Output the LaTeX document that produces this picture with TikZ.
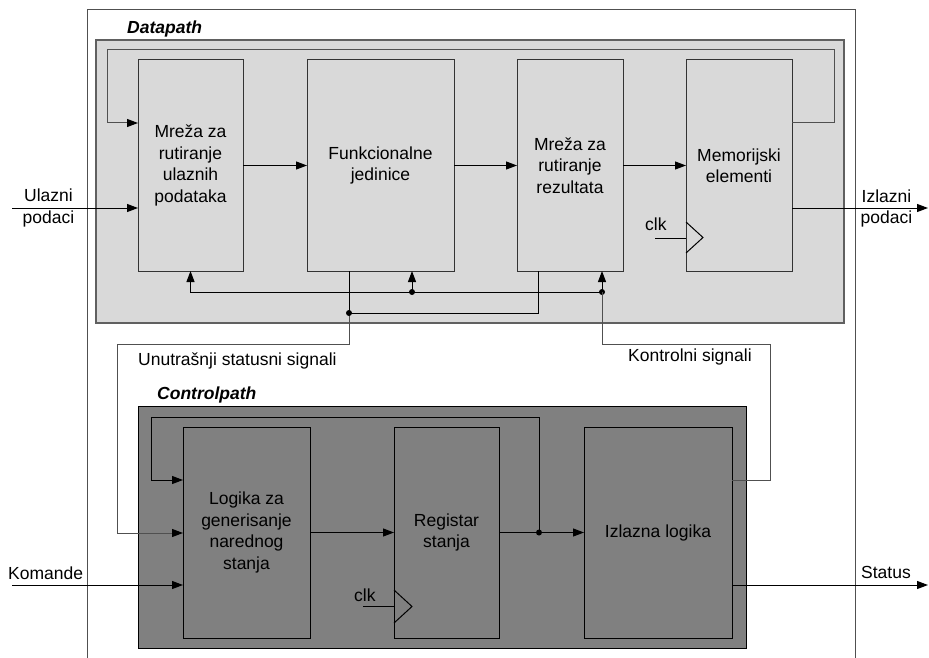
\documentclass[tikz,border=0pt]{standalone}
\usepackage{fontspec}
\setmainfont{Liberation Sans}
\usetikzlibrary{arrows.meta}

\definecolor{dpfill}{HTML}{D9D9D9}
\definecolor{cpfill}{HTML}{808080}
\definecolor{dpedge}{HTML}{606060}
\definecolor{frame}{HTML}{505050}
\definecolor{wiregray}{HTML}{505050}

\tikzset{
  txt/.style={font=\fontsize{17.5}{21.5}\selectfont},
  block/.style={draw=black!80, line width=1pt, rectangle, inner sep=0pt, outer sep=0pt,
    align=center, txt},
  wire/.style={draw=black, line width=1pt},
  grwire/.style={draw=wiregray, line width=1pt},
  arr/.style={-{Triangle[length=11pt,width=8pt,black]}},
  dot/.style={circle, fill=black, inner sep=0pt, minimum size=6pt},
  lbl/.style={txt, inner sep=0pt},
  title/.style={font=\fontsize{17.5}{21.5}\selectfont\bfseries\itshape, inner sep=0pt},
}

\begin{document}
\begin{tikzpicture}[x=1pt, y=-1pt]
\useasboundingbox (0,0) rectangle (929,658);

% enclosing system frame, open at the bottom
\draw[frame, line width=1pt] (87,658) -- (87,10) -- (855,10) -- (855,658);

% datapath region
\draw[fill=dpfill, draw=dpedge, line width=1.5pt] (96,40) rectangle (844,323);
\node[title, anchor=base west] (dptitle) at (127,33.5) {Datapath};

% controlpath region
\draw[fill=cpfill, draw=black, line width=1pt] (138,406) rectangle (746,648);
\node[title, anchor=base west] (cptitle) at (157,399.5) {Controlpath};

% datapath blocks
\node[block, minimum width=105pt, minimum height=211pt] (b1) at (190.5,165.5)
  {Mreža za\\rutiranje\\ulaznih\\podataka};
\node[block, minimum width=147pt, minimum height=211pt] (b2) at (380.5,165.5)
  {Funkcionalne\\jedinice};
\node[block, minimum width=106pt, minimum height=211pt] (b3) at (570,165.5)
  {Mreža za\\rutiranje\\rezultata};
\node[block, minimum width=106pt, minimum height=211pt] (b4) at (739,165.5)
  {Memorijski\\elementi};

% controlpath blocks
\node[block, draw=black, minimum width=127pt, minimum height=211pt] (c1) at (246.5,532.5)
  {Logika za\\generisanje\\narednog\\stanja};
\node[block, draw=black, minimum width=105pt, minimum height=211pt] (c2) at (446.5,532.5)
  {Registar\\stanja};
\node[block, draw=black, minimum width=148pt, minimum height=211pt] (c3) at (658,532.5)
  {Izlazna logika};

% datapath feedback from the memory elements
\draw[grwire, arr] (b4.east |- 0,123) -| (834,50) -| (107,123) -- (b1.west |- 0,123);

% data flow through the datapath
\coordinate (inL) at (12,208);
\coordinate (outR) at (928,208);
\draw[wire, arr] (inL) -- (b1.west |- inL);
\draw[wire, arr] (b1.east) -- (b2.west);
\draw[wire, arr] (b2.east) -- (b3.west);
\draw[wire, arr] (b3.east) -- (b4.west);
\draw[wire, arr] (b4.east |- outR) -- (outR);

% clock input of the memory elements
\draw[wire] (b4.west |- 0,222) -- (703,237.5) -- (b4.west |- 0,253);
\coordinate (clkA) at (655,238);
\draw[wire] (clkA) -- (b4.west |- clkA);
\node[lbl, anchor=base west] (clkAlbl) at (645,230.7) {clk};

% control bus inside the datapath
\coordinate (j2) at (412,292);
\coordinate (j3) at (602,292);
\draw[wire, arr] (j3) -- (b1.south |- j3) -- (b1.south);
\draw[wire, arr] (j2) -- (b2.south -| j2);
\draw[wire, arr] (j3) -- (b3.south -| j3);
\node[dot] at (j2) {};
\node[dot] at (j3) {};

% internal status signals
\coordinate (s0) at (349,313);
\draw[wire] (b3.south -| 538,0) |- (s0);
\draw[wire] (b2.south -| s0) -- (s0);
\draw[grwire, arr] (s0) -- (349,344) -| (117,533) -- (c1.west |- 0,533);
\node[dot] at (s0) {};
\node[lbl, anchor=base west] (stlbl) at (138,365.7) {Unutrašnji statusni signali};

% control signals from the output logic
\draw[grwire] (c3.east |- 0,480) -| (770,344) -| (j3);
\node[lbl, anchor=base west] (ctlbl) at (628,361.7) {Kontrolni signali};

% controlpath connections
\coordinate (k) at (539,532.5);
\draw[wire, arr] (c1.east) -- (c2.west);
\draw[wire, arr] (c2.east) -- (c3.west);
\draw[wire, arr] (k) -- (539,417) -| (151,480) -- (c1.west |- 0,480);
\node[dot] at (k) {};

% clock input of the state register
\draw[wire] (c2.west |- 0,590) -- (412,606.5) -- (c2.west |- 0,623);
\coordinate (clkB) at (363,606.5);
\draw[wire] (clkB) -- (c2.west |- clkB);
\node[lbl, anchor=base west] (clkBlbl) at (354,601) {clk};

% external commands and status
\coordinate (cmdL) at (12,585);
\coordinate (statR) at (928,585);
\draw[wire, arr] (cmdL) -- (c1.west |- cmdL);
\draw[wire, arr] (c3.east |- statR) -- (statR);

% port labels
\node[lbl, align=center] (inlbl) at (48.5,208) {Ulazni\\podaci};
\node[lbl, align=center] (outlbl) at (886.5,208.5) {Izlazni\\podaci};
\node[lbl, anchor=base west] (cmdlbl) at (8,579.3) {Komande};
\node[lbl, anchor=base] (statlbl) at (886,578.3) {Status};
\end{tikzpicture}
\end{document}
